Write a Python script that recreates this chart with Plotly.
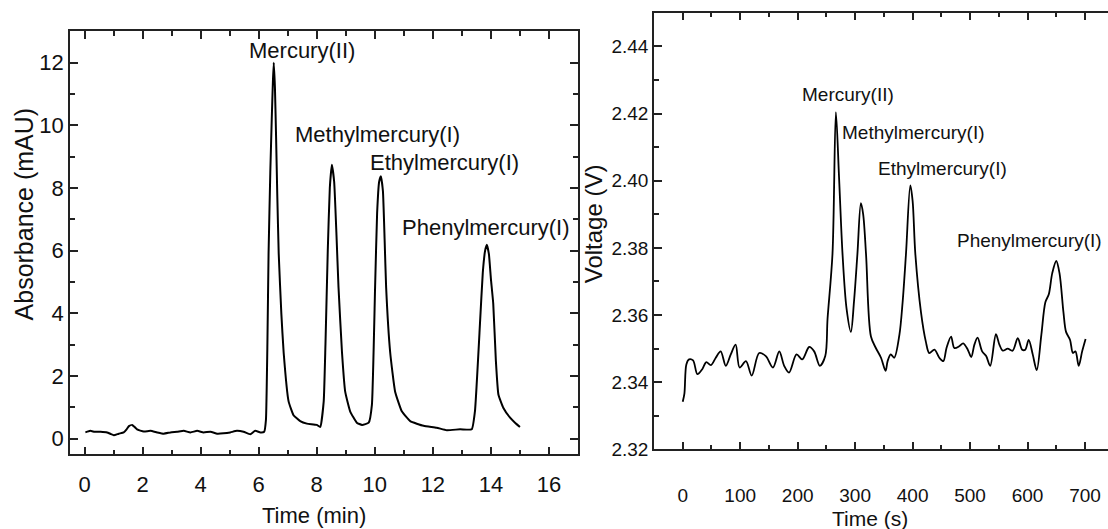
import plotly.graph_objects as go

# ---------------- Left panel: absorbance chromatogram ----------------
time_min = [0.03, 0.2, 0.35, 0.55, 0.78, 0.9, 1.01, 1.18, 1.35, 1.45, 1.53, 1.64, 1.72, 1.81, 2.04,
            2.27, 2.5, 2.73, 2.96, 3.19, 3.42, 3.65, 3.88, 4.1, 4.34, 4.57, 4.79, 5.02, 5.25,
            5.48, 5.71, 5.88, 6.06, 6.19, 6.25, 6.3, 6.34, 6.4, 6.45, 6.49, 6.52, 6.56, 6.6,
            6.64, 6.69, 6.78, 6.86, 7.03, 7.2, 7.43, 7.66, 8.0, 8.12, 8.24, 8.3, 8.38, 8.45,
            8.52, 8.6, 8.68, 8.75, 8.87, 8.98, 9.15, 9.38, 9.56, 9.79, 9.9, 10.01, 10.08, 10.15,
            10.21, 10.28, 10.34, 10.39, 10.53, 10.7, 10.93, 11.22, 11.68, 12.13, 12.48, 12.94,
            13.34, 13.45, 13.63, 13.72, 13.8, 13.86, 13.93, 14.0, 14.08, 14.17, 14.26, 14.43,
            14.66, 14.83, 15.0]
absorbance = [0.2, 0.25, 0.22, 0.22, 0.2, 0.15, 0.11, 0.16, 0.2, 0.3, 0.4, 0.44, 0.38, 0.3, 0.23,
              0.25, 0.2, 0.16, 0.2, 0.22, 0.25, 0.2, 0.25, 0.2, 0.22, 0.16, 0.17, 0.2, 0.25,
              0.22, 0.14, 0.25, 0.2, 0.22, 0.6, 3.0, 5.9, 8.5, 10.2, 11.4, 12.0, 11.2, 9.6,
              7.8, 5.9, 4.0, 2.75, 1.19, 0.75, 0.56, 0.48, 0.44, 0.375, 1.19, 3.0, 6.0, 8.0,
              8.74, 8.2, 6.5, 4.83, 2.75, 1.5, 0.875, 0.51, 0.44, 0.51, 1.08, 4.83, 7.2, 8.2,
              8.375, 7.9, 6.3, 4.84, 2.75, 1.5, 0.875, 0.56, 0.41, 0.35, 0.27, 0.3,
              0.3, 0.875, 3.79, 5.3, 6.0, 6.19, 5.9, 5.1, 4.31, 2.5, 1.4, 0.98,
              0.67, 0.51, 0.375]

left_labels = ["Mercury(II)", "Methylmercury(I)", "Ethylmercury(I)", "Phenylmercury(I)"]
left_label_x = [7.5, 10.1, 12.4, 13.8]
left_label_y = [12.4, 9.72, 8.8, 6.75]

# ---------------- Right panel: voltage signal ----------------
time_s = [0, 2.9, 6.3, 11, 18, 25.5, 34, 41, 49, 57.5, 66, 75, 83.6, 92, 99, 110, 120, 133,
          144.6, 157, 168, 176.5, 185, 198, 208, 220, 228.7, 238.6, 248, 252, 260.6, 266.5,
          272, 278, 285, 292.6, 298, 304, 310, 314, 319, 327.5, 336, 345, 353, 356.5, 362,
          368, 377, 382.6, 388.5, 396, 400, 404.7, 414.6, 423, 429, 438, 446.5, 453.5, 459,
          467, 472.6, 481, 488, 496, 502, 507.5, 513, 521, 528, 535, 545, 551, 557, 565.5,
          574, 583, 590.6, 596, 602, 609, 616, 624, 631, 637, 643, 650, 655.6, 662.5, 667,
          674, 679, 683.4, 689, 695, 701]
voltage = [2.3342, 2.3366, 2.3453, 2.3468, 2.3465, 2.3424, 2.3439, 2.346, 2.3451, 2.3473,
           2.3492, 2.3449, 2.3483, 2.3512, 2.3444, 2.3463, 2.342, 2.3487, 2.3478, 2.3444,
           2.3492, 2.3449, 2.3429, 2.3483, 2.3468, 2.3505, 2.3492, 2.3449, 2.3478, 2.3589,
           2.3783, 2.4204, 2.401, 2.3783, 2.362, 2.355, 2.364, 2.3783, 2.3933, 2.390, 2.378,
           2.3536, 2.3502, 2.3473, 2.3434, 2.3463, 2.3483, 2.3473, 2.3541, 2.3638, 2.3783,
           2.3986, 2.394, 2.3783, 2.3608, 2.3521, 2.3487, 2.3497, 2.3473, 2.3463, 2.3502,
           2.3536, 2.3502, 2.3507, 2.3516, 2.3497, 2.3475, 2.3512, 2.3533, 2.3492, 2.3478,
           2.3449, 2.3543, 2.3512, 2.3494, 2.35, 2.3494, 2.3531, 2.3497, 2.3497, 2.3526,
           2.3483, 2.3436, 2.3541, 2.3638, 2.3662, 2.3725, 2.3761, 2.3725, 2.3608, 2.355,
           2.3526, 2.3487, 2.3492, 2.3449, 2.3492, 2.3529]

right_labels = ["Mercury(II)", "Methylmercury(I)", "Ethylmercury(I)", "Phenylmercury(I)"]
right_label_x = [288, 402, 451.7, 603]
right_label_y = [2.4257, 2.4143, 2.4036, 2.3821]

FONT = "Liberation Sans, Arial, sans-serif"
FRAME = "#222222"

fig = go.Figure()
fig.add_trace(go.Scatter(x=time_min, y=absorbance, mode="lines", line_shape="spline",
                         line=dict(color="black", width=2, smoothing=0.4), xaxis="x", yaxis="y",
                         showlegend=False, hoverinfo="skip"))
fig.add_trace(go.Scatter(x=time_s, y=voltage, mode="lines", line_shape="spline",
                         line=dict(color="black", width=1.8, smoothing=0.9), xaxis="x2", yaxis="y2",
                         showlegend=False, hoverinfo="skip"))

common = dict(showgrid=False, zeroline=False, showline=True, linecolor=FRAME, linewidth=1.5,
              ticks="inside", tickcolor=FRAME, tickwidth=1.5)

fig.update_layout(
    width=1108, height=529,
    margin=dict(l=0, r=0, t=0, b=0),
    paper_bgcolor="white", plot_bgcolor="white",
    font=dict(family=FONT, color="#111111"),
    xaxis=dict(domain=[70/1108, 578/1108], range=[-0.5, 17], anchor="y",
               tickvals=[0, 2, 4, 6, 8, 10, 12, 14, 16], ticklen=8, mirror="ticks",
               minor=dict(ticks="inside", ticklen=5, tickcolor=FRAME, tickwidth=1.5,
                          tickvals=[1, 3, 5, 7, 9, 11, 13, 15]),
               tickfont=dict(size=22), ticklabelstandoff=9, **common),
    yaxis=dict(domain=[1-464/529, 1-32/529], range=[-0.5, 13], anchor="x",
               tickvals=[0, 2, 4, 6, 8, 10, 12], ticklen=8, mirror="ticks",
               minor=dict(ticks="inside", ticklen=5, tickcolor=FRAME, tickwidth=1.5,
                          tickvals=[1, 3, 5, 7, 9, 11]),
               tickfont=dict(size=22), ticklabelstandoff=0, **common),
    xaxis2=dict(domain=[654/1108, 1.0], range=[-50, 740], anchor="y2",
                tickvals=[0, 100, 200, 300, 400, 500, 600, 700], ticklen=8, mirror="ticks",
                minor=dict(ticks="inside", ticklen=5, tickcolor=FRAME, tickwidth=1.5,
                           tickvals=[50, 150, 250, 350, 450, 550, 650]),
                tickfont=dict(size=19), ticklabelstandoff=28, **common),
    yaxis2=dict(domain=[1-459/529, 1-13/529], range=[2.32, 2.45], anchor="x2",
                tickvals=[2.32, 2.34, 2.36, 2.38, 2.40, 2.42, 2.44],
                ticktext=["2.32", "2.34", "2.36", "2.38", "2.40", "2.42", "2.44"], ticklen=8,
                mirror=False,
                minor=dict(ticks="inside", ticklen=5, tickcolor=FRAME, tickwidth=1.5,
                           tickvals=[2.33, 2.35, 2.37, 2.39, 2.41, 2.43]),
                tickfont=dict(size=19), ticklabelstandoff=0, **common),
)

annotations = []
for t, x, y in zip(left_labels, left_label_x, left_label_y):
    annotations.append(dict(text=t, x=x, y=y, xref="x", yref="y", showarrow=False,
                            font=dict(size=22), xanchor="center", yanchor="middle"))
for t, x, y in zip(right_labels, right_label_x, right_label_y):
    annotations.append(dict(text=t, x=x, y=y, xref="x2", yref="y2", showarrow=False,
                            font=dict(size=19), xanchor="center", yanchor="middle"))

# axis titles
annotations.append(dict(text="Time (min)", x=313.5/1108, y=1-526/529, xref="paper", yref="paper",
                        showarrow=False, font=dict(size=22), xanchor="center", yanchor="middle"))
annotations.append(dict(text="Absorbance (mAU)", x=24/1108, y=1-219/529, xref="paper", yref="paper",
                        showarrow=False, font=dict(size=25), textangle=-90,
                        xanchor="center", yanchor="middle"))
annotations.append(dict(text="Time (s)", x=870/1108, y=0, xref="paper", yref="paper",
                        showarrow=False, font=dict(size=21), xanchor="center", yanchor="middle"))
annotations.append(dict(text="Voltage (V)", x=593/1108, y=1-228/529, xref="paper", yref="paper",
                        showarrow=False, font=dict(size=24), textangle=-90,
                        xanchor="center", yanchor="middle"))
fig.update_layout(annotations=annotations)

fig.write_html("out.html")
